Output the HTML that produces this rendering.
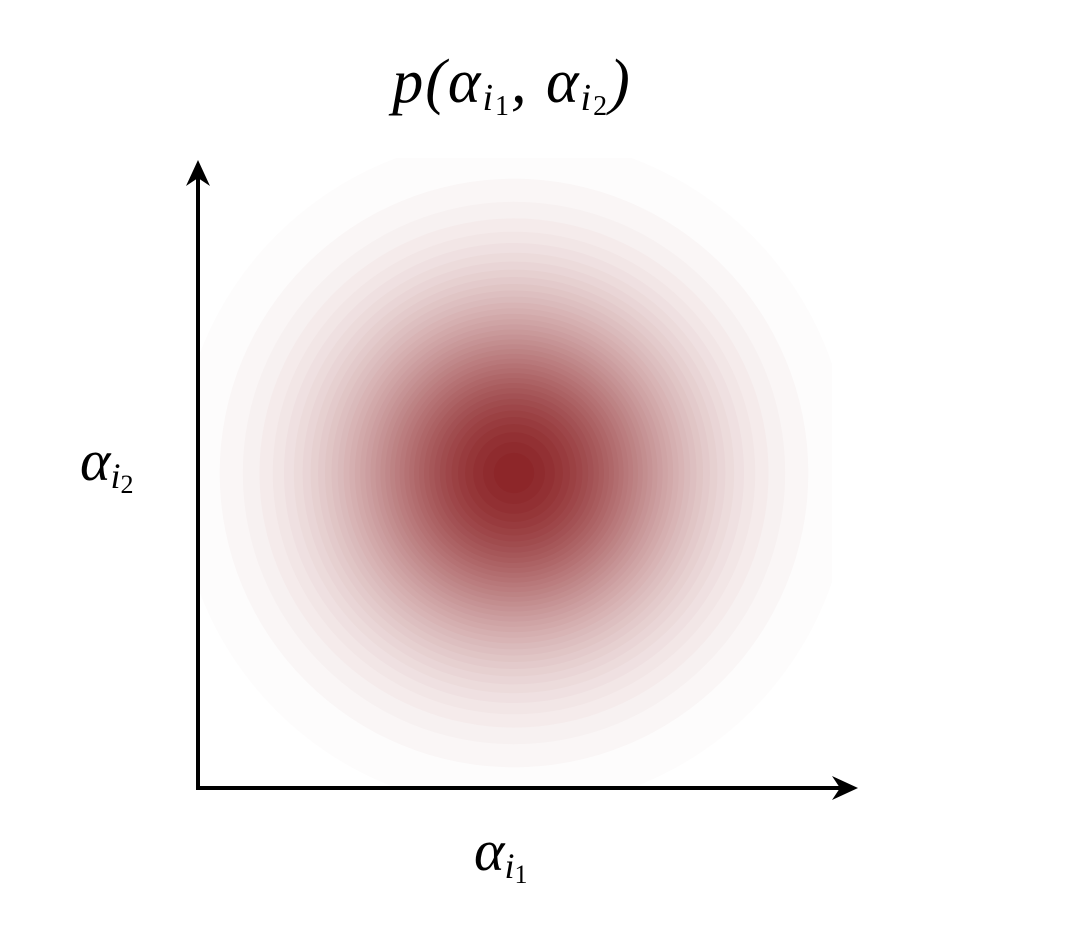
<!DOCTYPE html>
<html><head><meta charset="utf-8"><style>
body{margin:0;background:#fff;}
svg{display:block;}
text{font-family:"Liberation Serif",serif;font-style:italic;fill:#000;}
</style></head><body>
<svg id="chart" width="1065" height="947" viewBox="0 0 1065 947" xmlns="http://www.w3.org/2000/svg">
<defs><clipPath id="plotclip"><rect x="200" y="158" width="632" height="628"/></clipPath></defs>
<g id="contours" clip-path="url(#plotclip)"></g>
<g>
<line x1="198" y1="790" x2="198" y2="170" stroke="#000" stroke-width="4"/>
<path d="M198 160 L186 186 L198 178 L210 186 Z" fill="#000"/>
</g>
<g>
<line x1="196" y1="788" x2="848" y2="788" stroke="#000" stroke-width="4"/>
<path d="M858 788 L832 776 L840 788 L832 800 Z" fill="#000"/>
</g>
<text x="512" y="102" text-anchor="middle" font-size="62" letter-spacing="2">p(α<tspan font-size="38" dy="8">i</tspan><tspan font-size="28" font-style="normal" dy="5">1</tspan><tspan dy="-13">, α</tspan><tspan font-size="38" dy="8">i</tspan><tspan font-size="28" font-style="normal" dy="5">2</tspan><tspan dy="-13">)</tspan></text>
<text x="80" y="480" font-size="58">α<tspan font-size="36" dy="8">i</tspan><tspan font-size="26" font-style="normal" dy="5">2</tspan></text>
<text x="474" y="870" font-size="58">α<tspan font-size="36" dy="8">i</tspan><tspan font-size="26" font-style="normal" dy="5">1</tspan></text>
</svg>
<script>
// density levels (fraction of peak) for filled contours
const levels = [0.015,0.04,0.065,0.09,0.115,0.14,0.165,0.19,0.215,0.24,0.265,0.29,0.315,0.34,0.365,0.39,0.415,0.44,0.465,0.49,0.515,0.54,0.565,0.59,0.615,0.64,0.665,0.69,0.715,0.74,0.765,0.79,0.815,0.84,0.865,0.89,0.915,0.94,0.965,0.985];
const meanX = [0];
const meanY = [0];
const sigma = [1];
// axis functions: data units -> pixels
const xScale = v => 514 + v * 116;
const yScale = v => 473 - v * 116;
const rScale = v => v * 116;
const g = document.getElementById('contours');
const peak = [139,35,38];
function col(t){
  const c = peak.map(p => Math.round(255 + (p - 255) * t));
  return `rgb(${c[0]},${c[1]},${c[2]})`;
}
for (let i = 0; i < levels.length; i++) {
  const lv = levels[i];
  const r = sigma[0] * Math.sqrt(-2 * Math.log(lv));
  const c = document.createElementNS('http://www.w3.org/2000/svg', 'circle');
  c.setAttribute('cx', xScale(meanX[0]));
  c.setAttribute('cy', yScale(meanY[0]));
  c.setAttribute('r', rScale(r));
  c.setAttribute('fill', col(lv));
  
  
  g.appendChild(c);
}
</script>
</body></html>
